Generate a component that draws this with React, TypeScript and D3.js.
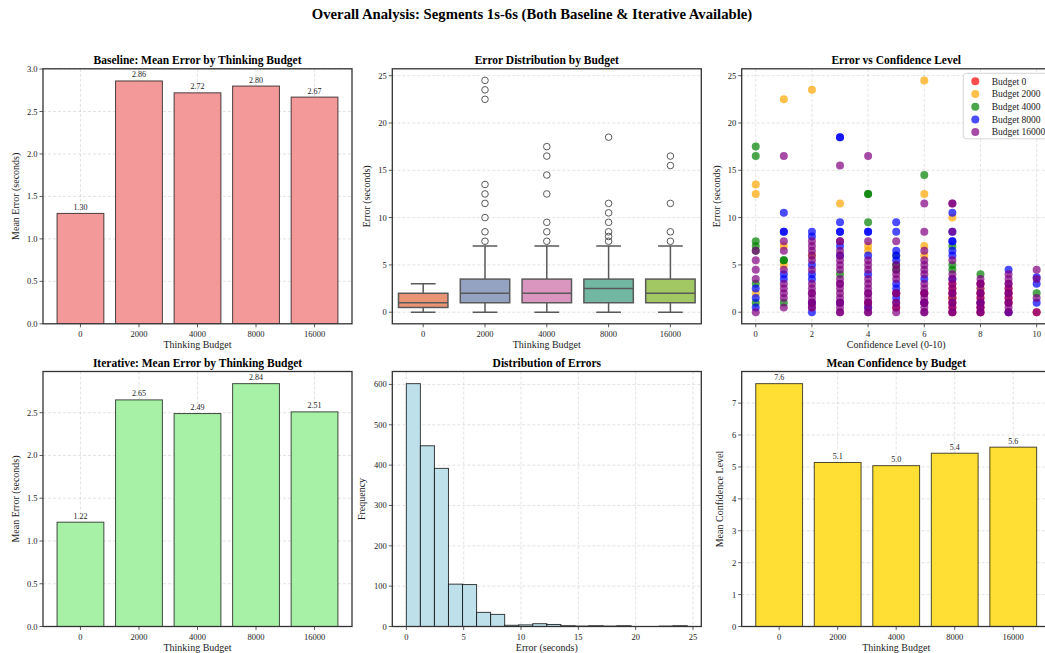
import React from 'react';
import * as d3 from 'd3';

// ---------- data ----------
const budgets = ['0', '2000', '4000', '8000', '16000'];
const baselineMeanError = [1.3, 2.86, 2.72, 2.8, 2.67];
const iterativeMeanError = [1.22, 2.65, 2.49, 2.84, 2.51];
const meanConfidence = [7.61, 5.14, 5.04, 5.43, 5.62];

// box stats per budget: [lower whisker, q1, median, q3, upper whisker]
const boxStats = [
  [0, 0.5, 1.0, 2.0, 3.0],
  [0, 1.0, 2.0, 3.5, 7.0],
  [0, 1.0, 2.0, 3.5, 7.0],
  [0, 1.0, 2.5, 3.5, 7.0],
  [0, 1.0, 2.0, 3.5, 7.0],
];
const boxOutliers = [
  [],
  [7.5, 8.5, 10, 11.5, 12.5, 13.5, 22.5, 23.5, 24.5],
  [7.5, 8.5, 9.5, 12.5, 14.5, 16.5, 17.5],
  [7.5, 8.0, 8.5, 9.5, 10.5, 11.5, 18.5],
  [7.5, 8.5, 11.5, 15.5, 16.5],
];
const boxColors = ['#e99575', '#95a3c3', '#db96c0', '#71b7a1', '#a2c864'];

// histogram: 20 equal bins over [0, 24.5]
const histMin = 0;
const histMax = 24.5;
const histCounts = [602, 448, 392, 105, 104, 35, 30, 3, 4, 7, 5, 2, 1, 2, 1, 2, 0, 0, 1, 2];

// scatter: errors listed per confidence level 0..10
const scatterBudget0 = [
  [], [], [], [], [1.0], [0.5, 2.0], [1.0, 2.0],
  [0, 0.5, 1, 1.5, 2, 2.5, 3], [0, 0.5, 1, 1.5, 2, 3], [0, 1, 1.5, 2, 2.5], [0],
];
const scatterBudget2000 = [
  [13.5, 12.5, 2.0], [22.5, 7.0, 5.0], [23.5, 6.0], [11.5], [7.0, 6.5], [],
  [24.5, 12.5, 7.0, 6.0], [10.0, 1.5], [2.5], [], [],
];
const scatterBudget4000 = [
  [17.5, 16.5, 7.5, 7.0, 6.5, 3.0, 1.0], [5.5, 5.5, 1.0], [], [4.0], [12.5, 12.5, 9.5],
  [6.0, 5.0, 4.5], [14.5], [7.0, 5.0, 4.5], [4.0], [], [2.0],
];
const scatterBudget8000 = [
  [2.5, 1.5, 0.5], [10.5, 8.5, 8.5, 4.0, 3.5], [8.5, 8.0, 5.0, 4.0, 3.5, 1.0, 0],
  [18.5, 18.5, 9.5, 8.5, 8.5, 7.0, 6.0, 1.0], [8.5, 8.5, 6.0, 4.0, 0.5],
  [9.5, 8.5, 6.5, 6.0, 5.5, 3.0, 2.5, 1.5], [3.5, 1.0],
  [10.5, 8.5, 7.5, 7.5, 6.5, 6.0, 3.5], [1.0], [4.5, 0], [3.7, 3.0, 1.0],
];
const scatterBudget16000 = [
  [6.5, 5.5, 4.5, 3.5, 0],
  [16.5, 7.5, 6.5, 4.5, 3.0, 2.5, 2.0, 1.5, 0.5],
  [7.5, 7.0, 6.5, 6.0, 5.5, 4.5, 3.0, 2.5, 2.0, 1.5, 1.0, 0.5, 0.5, 2.0, 1.0],
  [15.5, 7.5, 7.5, 6.5, 6.0, 5.5, 5.0, 4.5, 3.5, 3.0, 2.5, 2.0, 1.5, 1.0, 0.5, 0, 3.0, 1.0, 0],
  [16.5, 7.5, 5.5, 5.0, 4.5, 3.5, 3.0, 2.5, 2.0, 1.5, 1.0, 0.5, 0, 2.0, 1.0, 0],
  [7.5, 5.0, 4.5, 4.0, 3.5, 2.0, 1.0, 0.5, 0, 2.0, 1.0],
  [11.5, 8.5, 6.5, 5.5, 5.0, 4.5, 4.0, 3.0, 2.5, 2.0, 1.5, 1.0, 0.5, 0, 2.0, 1.0, 0],
  [11.5, 11.5, 8.5, 5.5, 4.0, 3.5, 3.0, 2.5, 2.0, 1.5, 1.0, 0.5, 0, 2.0, 1.0, 0],
  [3.5, 3.0, 2.5, 2.0, 1.5, 1.0, 0.5, 0, 3.0, 2.0, 1.0, 0.5, 0],
  [4.0, 3.5, 3.0, 2.5, 2.0, 1.5, 1.0, 0.5, 0, 3.0, 2.0, 1.0],
  [4.5, 3.5, 1.5, 0],
];
const scatterSeries = [
  { label: 'Budget 0', color: '#ff0000', errors: scatterBudget0 },
  { label: 'Budget 2000', color: '#ffa500', errors: scatterBudget2000 },
  { label: 'Budget 4000', color: '#008000', errors: scatterBudget4000 },
  { label: 'Budget 8000', color: '#0000ff', errors: scatterBudget8000 },
  { label: 'Budget 16000', color: '#800080', errors: scatterBudget16000 },
];

// ---------- layout ----------
const FONT = '"Liberation Serif", "Times New Roman", Times, serif';
const COLS = [43, 392.3, 741.7];
const ROWS = [68.8, 371.5];
const PW = 309;
const PH = 255;
const TICK_FS = 8.5;
const LABEL_FS = 10;
const TITLE_FS = 11.5;
const GRID = { stroke: '#b0b0b0', strokeOpacity: 0.45, strokeDasharray: '3,2', strokeWidth: 0.8 };

type Box = { x: number; y: number; w: number; h: number };
const box = (c: number, r: number): Box => ({ x: COLS[c], y: ROWS[r], w: PW, h: PH });

type AxesProps = {
  b: Box;
  x: (v: number) => number;
  y: (v: number) => number;
  xTicks: { v: number; t: string }[];
  yTicks: { v: number; t: string }[];
  gridX?: boolean;
  gridY?: boolean;
  title: string;
  xLabel: string;
  yLabel: string;
  yLabelX: number;
  children?: React.ReactNode;
};

function Axes({ b, x, y, xTicks, yTicks, gridX = true, gridY = true, title, xLabel, yLabel, yLabelX, children }: AxesProps) {
  const bottom = b.y + b.h;
  const clipId = `clip-${Math.round(b.x)}-${Math.round(b.y)}`;
  return (
    <g>
      <defs>
        <clipPath id={clipId}>
          <rect x={b.x} y={b.y} width={b.w} height={b.h} />
        </clipPath>
      </defs>
      <g clipPath={`url(#${clipId})`}>
        {gridY && yTicks.map((t) => (
          <line key={'gy' + t.v} x1={b.x} x2={b.x + b.w} y1={y(t.v)} y2={y(t.v)} {...GRID} />
        ))}
        {gridX && xTicks.map((t) => (
          <line key={'gx' + t.v} x1={x(t.v)} x2={x(t.v)} y1={b.y} y2={bottom} {...GRID} />
        ))}
        {children}
      </g>
      <rect x={b.x} y={b.y} width={b.w} height={b.h} fill="none" stroke="#333" strokeWidth={1.3} />
      {xTicks.map((t) => (
        <g key={'xt' + t.v}>
          <line x1={x(t.v)} x2={x(t.v)} y1={bottom} y2={bottom + 3.5} stroke="#333" strokeWidth={0.8} />
          <text x={x(t.v)} y={bottom + 13.5} textAnchor="middle" fontSize={TICK_FS} fill="#222">{t.t}</text>
        </g>
      ))}
      {yTicks.map((t) => (
        <g key={'yt' + t.v}>
          <line x1={b.x - 3.5} x2={b.x} y1={y(t.v)} y2={y(t.v)} stroke="#333" strokeWidth={0.8} />
          <text x={b.x - 5.5} y={y(t.v) + 3} textAnchor="end" fontSize={TICK_FS} fill="#222">{t.t}</text>
        </g>
      ))}
      <text x={b.x + b.w / 2} y={b.y - 4.5} textAnchor="middle" fontSize={TITLE_FS} fontWeight="bold">{title}</text>
      <text x={b.x + b.w / 2} y={bottom + 24} textAnchor="middle" fontSize={LABEL_FS} fill="#222">{xLabel}</text>
      <text transform={`translate(${yLabelX},${b.y + b.h / 2}) rotate(-90)`} textAnchor="middle" fontSize={LABEL_FS} fill="#222">{yLabel}</text>
    </g>
  );
}

function BarPanel({ b, values, fill, yMaxTick, yStep, fmtTick, fmtVal, title, yLabel, yLabelX }: {
  b: Box; values: number[]; fill: string; yMaxTick: number; yStep: number;
  fmtTick: (v: number) => string; fmtVal: (v: number) => string; title: string; yLabel: string; yLabelX: number;
}) {
  const n = values.length;
  const x = d3.scaleLinear().domain([-0.4 - 0.05 * (n - 0.2), n - 1 + 0.4 + 0.05 * (n - 0.2)]).range([b.x, b.x + b.w]);
  const yMax = d3.max(values)! * 1.05;
  const y = d3.scaleLinear().domain([0, yMax]).range([b.y + b.h, b.y]);
  const yTicks = d3.range(0, yMaxTick + yStep / 2, yStep).map((v) => ({ v, t: fmtTick(v) }));
  const xTicks = budgets.map((t, i) => ({ v: i, t }));
  return (
    <Axes b={b} x={x} y={y} xTicks={xTicks} yTicks={yTicks} title={title} xLabel="Thinking Budget" yLabel={yLabel} yLabelX={yLabelX}>
      {values.map((v, i) => (
        <g key={i}>
          <rect x={x(i - 0.4)} y={y(v)} width={x(i + 0.4) - x(i - 0.4)} height={y(0) - y(v)}
            fill={fill} stroke="#000" strokeOpacity={0.7} strokeWidth={1} />
          <text x={x(i)} y={y(v) - 3.5} textAnchor="middle" fontSize={8} fill="#222">{fmtVal(v)}</text>
        </g>
      ))}
    </Axes>
  );
}

function BoxPanel({ b }: { b: Box }) {
  const x = d3.scaleLinear().domain([-0.5, 4.5]).range([b.x, b.x + b.w]);
  const all = boxOutliers.flat().concat(boxStats.flat());
  const lo = d3.min(all)!;
  const hi = d3.max(all)!;
  const pad = (hi - lo) * 0.05;
  const y = d3.scaleLinear().domain([lo - pad, hi + pad]).range([b.y + b.h, b.y]);
  const yTicks = d3.range(0, 26, 5).map((v) => ({ v, t: String(v) }));
  const xTicks = budgets.map((t, i) => ({ v: i, t }));
  const line = '#595959';
  return (
    <Axes b={b} x={x} y={y} xTicks={xTicks} yTicks={yTicks} gridX={false} title="Error Distribution by Budget"
      xLabel="Thinking Budget" yLabel="Error (seconds)" yLabelX={370}>
      {boxStats.map(([wl, q1, med, q3, wh], i) => {
        const bx0 = x(i - 0.4), bx1 = x(i + 0.4);
        const c0 = x(i - 0.2), c1 = x(i + 0.2);
        return (
          <g key={i}>
            <line x1={x(i)} x2={x(i)} y1={y(q3)} y2={y(wh)} stroke={line} strokeWidth={1.5} />
            <line x1={x(i)} x2={x(i)} y1={y(q1)} y2={y(wl)} stroke={line} strokeWidth={1.5} />
            <line x1={c0} x2={c1} y1={y(wh)} y2={y(wh)} stroke={line} strokeWidth={1.5} />
            <line x1={c0} x2={c1} y1={y(wl)} y2={y(wl)} stroke={line} strokeWidth={1.5} />
            <rect x={bx0} y={y(q3)} width={bx1 - bx0} height={y(q1) - y(q3)} fill={boxColors[i]} stroke={line} strokeWidth={1.5} />
            <line x1={bx0} x2={bx1} y1={y(med)} y2={y(med)} stroke={line} strokeWidth={1.5} />
            {boxOutliers[i].map((o, k) => (
              <circle key={k} cx={x(i)} cy={y(o)} r={3.3} fill="none" stroke={line} strokeWidth={1} />
            ))}
          </g>
        );
      })}
    </Axes>
  );
}

function ScatterPanel({ b }: { b: Box }) {
  const x = d3.scaleLinear().domain([-0.5, 10.5]).range([b.x, b.x + b.w]);
  const y = d3.scaleLinear().domain([-1.225, 25.725]).range([b.y + b.h, b.y]);
  const yTicks = d3.range(0, 26, 5).map((v) => ({ v, t: String(v) }));
  const xTicks = d3.range(0, 11, 2).map((v) => ({ v, t: String(v) }));
  const lx = 963.3, ly = 73.3;
  return (
    <g>
      <Axes b={b} x={x} y={y} xTicks={xTicks} yTicks={yTicks} title="Error vs Confidence Level"
        xLabel="Confidence Level (0-10)" yLabel="Error (seconds)" yLabelX={720}>
        {scatterSeries.map((s) => (
          <g key={s.label} fill={s.color} fillOpacity={0.7}>
            {s.errors.flatMap((errs, conf) => errs.map((e, k) => (
              <circle key={conf + '-' + k} cx={x(conf)} cy={y(e)} r={4} />
            )))}
          </g>
        ))}
      </Axes>
      <rect x={lx} y={ly} width={90} height={65.5} rx={3} fill="#fff" fillOpacity={0.85} stroke="#ccc" strokeWidth={0.8} />
      {scatterSeries.map((s, i) => (
        <g key={s.label}>
          <circle cx={975.3} cy={ly + 8 + i * 12.7} r={4} fill={s.color} fillOpacity={0.7} />
          <text x={991.7} y={ly + 11.2 + i * 12.7} fontSize={9.5} fill="#222">{s.label}</text>
        </g>
      ))}
    </g>
  );
}

function HistPanel({ b }: { b: Box }) {
  const nb = histCounts.length;
  const bw = (histMax - histMin) / nb;
  const pad = (histMax - histMin) * 0.05;
  const x = d3.scaleLinear().domain([histMin - pad, histMax + pad]).range([b.x, b.x + b.w]);
  const y = d3.scaleLinear().domain([0, d3.max(histCounts)! * 1.05]).range([b.y + b.h, b.y]);
  const yTicks = d3.range(0, 601, 100).map((v) => ({ v, t: String(v) }));
  const xTicks = d3.range(0, 26, 5).map((v) => ({ v, t: String(v) }));
  return (
    <Axes b={b} x={x} y={y} xTicks={xTicks} yTicks={yTicks} title="Distribution of Errors"
      xLabel="Error (seconds)" yLabel="Frequency" yLabelX={365}>
      {histCounts.map((c, i) => {
        const x0 = x(histMin + i * bw), x1 = x(histMin + (i + 1) * bw);
        return (
          <rect key={i} x={x0} y={y(c)} width={x1 - x0} height={y(0) - y(c)}
            fill="#bde0eb" stroke="#000" strokeOpacity={0.75} strokeWidth={1} />
        );
      })}
    </Axes>
  );
}

export default function App() {
  return (
    <svg width={1045} height={653} fontFamily={FONT}
      style={{ position: 'absolute', left: 0, top: 0, background: '#fff', display: 'block' }}>
      <rect width={1045} height={653} fill="#fff" />
      <text x={532} y={19} textAnchor="middle" fontSize={14.7} fontWeight="bold">
        Overall Analysis: Segments 1s-6s (Both Baseline &amp; Iterative Available)
      </text>
      <BarPanel b={box(0, 0)} values={baselineMeanError} fill="#f39999" yMaxTick={3.0} yStep={0.5}
        fmtTick={(v) => v.toFixed(1)} fmtVal={(v) => v.toFixed(2)}
        title="Baseline: Mean Error by Thinking Budget" yLabel="Mean Error (seconds)" yLabelX={19} />
      <BoxPanel b={box(1, 0)} />
      <ScatterPanel b={box(2, 0)} />
      <BarPanel b={box(0, 1)} values={iterativeMeanError} fill="#a6f1a6" yMaxTick={2.5} yStep={0.5}
        fmtTick={(v) => v.toFixed(1)} fmtVal={(v) => v.toFixed(2)}
        title="Iterative: Mean Error by Thinking Budget" yLabel="Mean Error (seconds)" yLabelX={19} />
      <HistPanel b={box(1, 1)} />
      <BarPanel b={box(2, 1)} values={meanConfidence} fill="#ffdf33" yMaxTick={7} yStep={1}
        fmtTick={(v) => String(v)} fmtVal={(v) => v.toFixed(1)}
        title="Mean Confidence by Budget" yLabel="Mean Confidence Level" yLabelX={723} />
    </svg>
  );
}
